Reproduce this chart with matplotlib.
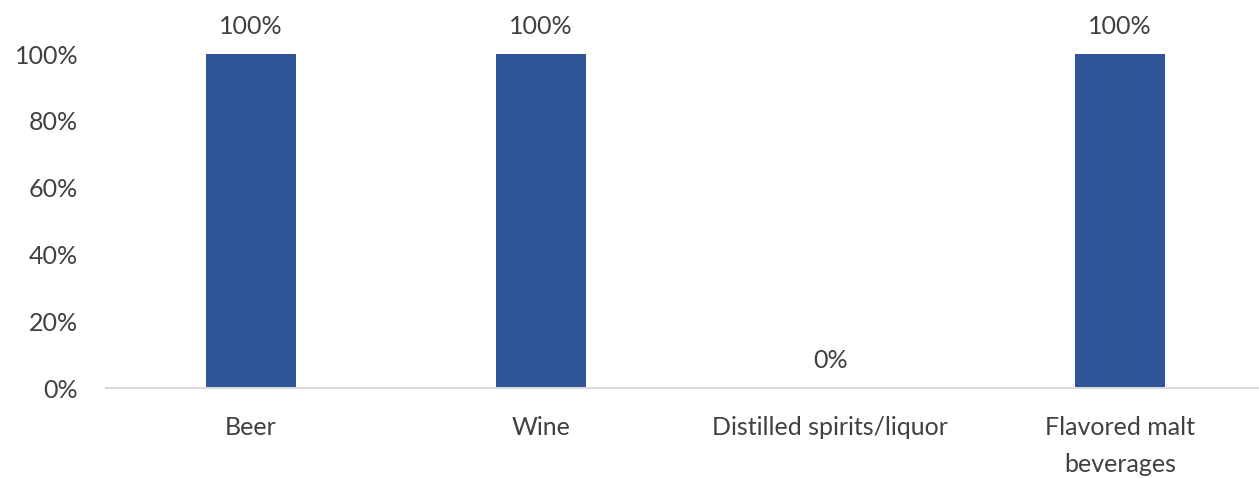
import matplotlib
matplotlib.use("Agg")
import matplotlib.pyplot as plt
from matplotlib.ticker import PercentFormatter

categories = ["Beer", "Wine", "Distilled spirits/liquor", "Flavored malt\nbeverages"]
values = [1.0, 1.0, 0.0, 1.0]
yticks = [0, 0.2, 0.4, 0.6, 0.8, 1.0]

plt.rcParams['font.family'] = ['Lato', 'DejaVu Sans']
text_color = "#404040"
fs = 18

fig = plt.figure(figsize=(12.59, 4.78), dpi=100)
ax = fig.add_axes([106/1259, 1-388/478, 1159/1259, (388-54)/478])

x = range(len(categories))
bars = ax.bar(x, values, width=0.31, color="#2F5597")
for xi, v in zip(x, values):
    ax.text(xi, v + 0.083, f"{v*100:.0f}%", ha="center", va="center",
            fontsize=fs, color=text_color)

ax.set_xlim(-0.5, len(categories) - 0.5)
ax.set_ylim(0, 1.0)
ax.set_yticks(yticks)
ax.yaxis.set_major_formatter(PercentFormatter(1.0, decimals=0))
ax.set_xticks(list(x))
ax.set_xticklabels(categories, fontsize=fs, color=text_color, linespacing=1.75)
ax.tick_params(axis="y", labelsize=fs, labelcolor=text_color, length=0, pad=20)
ax.tick_params(axis="x", length=0, pad=20)
for s in ["top", "right", "left"]:
    ax.spines[s].set_visible(False)
ax.spines["bottom"].set_color("#D9D9D9")
ax.spines["bottom"].set_linewidth(1.5)

fig.savefig("out.png", dpi=100)
